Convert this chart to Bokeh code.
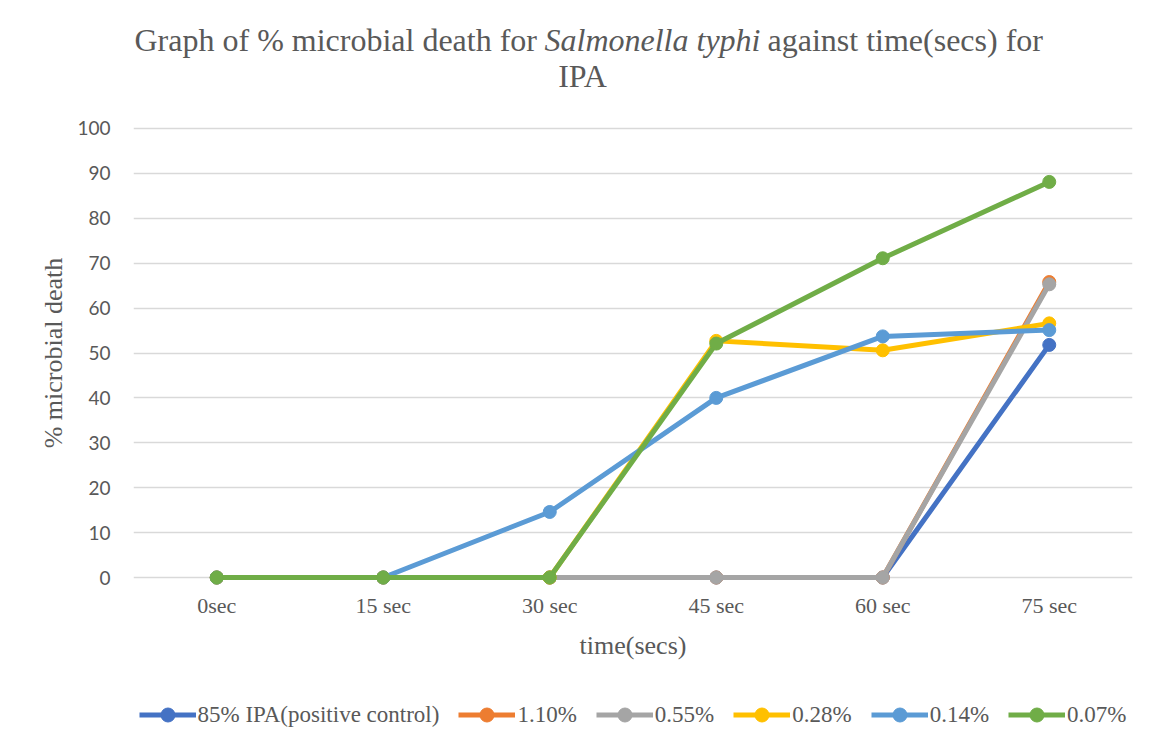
from bokeh.plotting import figure
from bokeh.layouts import column
from bokeh.models import FactorRange, Range1d, Label, Legend, LegendItem, FixedTicker
from bokeh.embed import file_html
from bokeh.resources import INLINE

# ---- data ----
times = ["0sec", "15 sec", "30 sec", "45 sec", "60 sec", "75 sec"]
series_names = ["85% IPA(positive control)", "1.10%", "0.55%", "0.28%", "0.14%", "0.07%"]
ipa_85 = [0, 0, 0, 0, 0, 51.8]
conc_110 = [0, 0, 0, 0, 0, 65.8]
conc_055 = [0, 0, 0, 0, 0, 65.3]
conc_028 = [0, 0, 0, 52.7, 50.6, 56.6]
conc_014 = [0, 0, 14.6, 40.0, 53.7, 55.1]
conc_007 = [0, 0, 0, 52.1, 71.1, 88.1]
y_ticks = [0, 10, 20, 30, 40, 50, 60, 70, 80, 90, 100]

series_values = [ipa_85, conc_110, conc_055, conc_028, conc_014, conc_007]
colors = ["#4472C4", "#ED7D31", "#A5A5A5", "#FFC000", "#5B9BD5", "#70AD47"]

TXT = "#595959"
SERIF = "Liberation Serif"
FL, FW, FR = 133, 999, 31   # frame left border, frame width, right border
LINE_W, MARK = 5, 13


def strip(height):
    f = figure(
        frame_width=FW, frame_height=height,
        min_border_left=FL, min_border_right=FR, min_border_top=0, min_border_bottom=0,
        x_range=Range1d(FL, FL + FW), y_range=Range1d(0, height),
        x_axis_location=None, y_axis_location=None,
        output_backend="svg", toolbar_location=None,
        background_fill_color="white", border_fill_color="white",
    )
    f.outline_line_color = None
    f.grid.visible = False
    return f


# ---- title strip ----
pt = strip(100)
title_kw = dict(text_font=SERIF, text_font_size="32px", text_color=TXT,
                text_baseline="middle")
pt.add_layout(Label(x=134, y=60.5, text="Graph of % microbial death for", text_align="left", **title_kw))
pt.add_layout(Label(x=544.0, y=60.5, text="Salmonella typhi", text_align="left",
                    text_font_style="italic", **title_kw))
pt.add_layout(Label(x=767.0, y=60.5, text="against time(secs) for", text_align="left", **title_kw))
pt.add_layout(Label(x=582, y=24.5, text="IPA", text_align="center", **title_kw))

# ---- main chart ----
p = figure(
    x_range=FactorRange(*times, range_padding=0),
    y_range=Range1d(-2, 102),
    frame_width=FW, frame_height=467,
    min_border_left=FL, min_border_right=FR,
    min_border_top=19, min_border_bottom=75,
    output_backend="svg", toolbar_location=None,
    background_fill_color="white", border_fill_color="white",
)
p.outline_line_color = None

p.xgrid.grid_line_color = None
p.ygrid.ticker = FixedTicker(ticks=y_ticks)
p.ygrid.grid_line_color = "#d9d9d9"
p.ygrid.grid_line_width = 1.5

p.yaxis.ticker = FixedTicker(ticks=y_ticks)
p.yaxis.axis_line_color = None
p.yaxis.major_tick_line_color = None
p.yaxis.minor_tick_line_color = None
p.yaxis.major_tick_out = 0
p.yaxis.major_tick_in = 0
p.yaxis.major_label_standoff = 23
p.yaxis.major_label_text_font = "Lato"
p.yaxis.major_label_text_font_size = "19px"
p.yaxis.major_label_text_color = TXT
p.yaxis.axis_label = "% microbial death"
p.yaxis.axis_label_text_font = SERIF
p.yaxis.axis_label_text_font_style = "normal"
p.yaxis.axis_label_text_font_size = "26px"
p.yaxis.axis_label_text_color = TXT
p.yaxis.axis_label_standoff = 6

p.xaxis.axis_line_color = None
p.xaxis.major_tick_line_color = None
p.xaxis.major_tick_out = 0
p.xaxis.major_tick_in = 0
p.xaxis.major_label_standoff = 6
p.xaxis.major_label_text_font = SERIF
p.xaxis.major_label_text_font_size = "22px"
p.xaxis.major_label_text_color = TXT
p.xaxis.axis_label = "time(secs)"
p.xaxis.axis_label_text_font = SERIF
p.xaxis.axis_label_text_font_style = "normal"
p.xaxis.axis_label_text_font_size = "26px"
p.xaxis.axis_label_text_color = TXT
p.xaxis.axis_label_standoff = 10

for vals, col in zip(series_values, colors):
    p.line(times, vals, line_color=col, line_width=LINE_W)
    p.scatter(times, vals, size=MARK, fill_color=col, line_color=col)

# ---- legend strip (same styles as the series, drawn by Bokeh's Legend) ----
pl = strip(88)
items = []
for name, col in zip(series_names, colors):
    # one off-frame point so that Bokeh draws the legend glyphs
    ln = pl.line(x=[-1000, -999], y=[-1000, -1000], line_color=col, line_width=LINE_W)
    sc = pl.scatter(x=[-1000], y=[-1000], size=MARK, fill_color=col, line_color=col)
    items.append(LegendItem(label=name, renderers=[ln, sc]))

legend = Legend(
    items=items, orientation="horizontal", location="bottom_center",
    glyph_width=57, glyph_height=35, label_height=27, label_standoff=2, spacing=19,
    padding=0, margin=18, border_line_color=None, background_fill_alpha=0,
    label_text_font=SERIF, label_text_font_size="23px", label_text_color=TXT,
)
pl.add_layout(legend)

layout = column(pt, p, pl, spacing=0)
open("out.html", "w").write(file_html(layout, INLINE))
